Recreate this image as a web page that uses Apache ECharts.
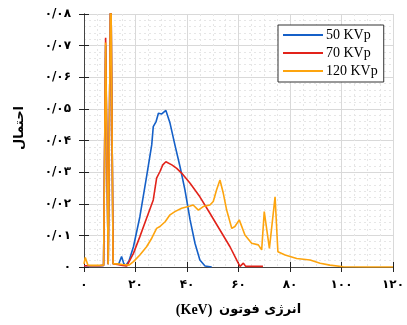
<!DOCTYPE html>
<html>
<head>
<meta charset="utf-8">
<script src="https://cdn.jsdelivr.net/npm/echarts@6/dist/echarts.min.js"></script>
<style>
  html, body { margin: 0; padding: 0; background: #fff; }
  #chart { width: 407px; height: 325px; }
</style>
</head>
<body>
<div id="chart"></div>
<script>
// 电子能谱数据（横轴 keV，纵轴 概率）
const seriesNames = ['50 KVp', '70 KVp', '120 KVp']
const seriesColors = ['#1560c8', '#e2231a', '#fda40e']

const energy50 = [0, 2, 4, 6, 7.6, 8.4, 9.4, 10.4, 11.3, 12.5, 13.5, 14.6, 15.4, 16.2, 17.5, 19.2, 21.7, 24.3, 26.3, 26.9, 28, 28.9, 30.2, 31.8, 33.4, 35.3, 37.3, 39.2, 41.2, 43.1, 45, 47, 49.6]
const prob50 = [0.0004, 0.0004, 0.0004, 0.0004, 0.0005, 0.07, 0.0009, 0.095, 0.001, 0.0009, 0.001, 0.0033, 0.0012, 0.0004, 0.002, 0.0064, 0.0159, 0.0286, 0.0386, 0.0444, 0.046, 0.0486, 0.0484, 0.0495, 0.0455, 0.0386, 0.0317, 0.0244, 0.0149, 0.0075, 0.0022, 0.0003, 0]

const energy70 = [0, 2, 4, 6, 7.6, 8.4, 9.4, 10.4, 11.3, 13, 15, 16.6, 19.2, 21.7, 24.3, 26.9, 28.2, 29.5, 30.6, 31.8, 34.1, 36, 37.9, 41.2, 45, 48.9, 52.8, 56.7, 59.9, 60.6, 61.9, 62.8, 66, 69.5]
const prob70 = [0.0004, 0.0004, 0.0004, 0.0004, 0.0005, 0.0725, 0.0009, 0.095, 0.001, 0.0008, 0.0005, 0.0003, 0.0043, 0.0096, 0.0154, 0.0212, 0.0281, 0.0302, 0.0323, 0.0333, 0.0323, 0.0312, 0.0297, 0.0265, 0.0222, 0.017, 0.0117, 0.0064, 0.0012, 0.0002, 0.0012, 0.0002, 0.0002, 0.0002]

const energy120 = [0, 0.5, 1.5, 3, 5, 7.6, 8.4, 9.4, 10.4, 11.3, 13, 15, 17.5, 19.2, 21.7, 24.3, 26.3, 28.2, 29.5, 31.5, 33.4, 35.3, 37.9, 41.2, 42.4, 44.4, 46.3, 48.9, 50.2, 51.5, 52.8, 54.1, 55.4, 57.4, 58.6, 60.3, 62.5, 65.1, 67.7, 69, 70, 72, 74.2, 75.3, 78.1, 82.6, 87.8, 91.7, 95.5, 100.7, 110, 120]
const prob120 = [0.001, 0.003, 0.0006, 0.0005, 0.0005, 0.0006, 0.071, 0.0009, 0.095, 0.001, 0.001, 0.0008, 0.0006, 0.0017, 0.0038, 0.0064, 0.0091, 0.0122, 0.0128, 0.0143, 0.0165, 0.0175, 0.0186, 0.0193, 0.0196, 0.018, 0.0191, 0.0196, 0.0207, 0.0244, 0.0275, 0.0233, 0.018, 0.0122, 0.0128, 0.0149, 0.0101, 0.0075, 0.007, 0.0054, 0.0175, 0.0059, 0.0222, 0.0048, 0.0038, 0.0027, 0.0022, 0.0012, 0.0006, 0.0001, 0, 0]

// 刻度标签（波斯数字）
const xTickLabels = ['۰', '۲۰', '۴۰', '۶۰', '۸۰', '۱۰۰', '۱۲۰']
const yTickLabels = ['۰', '۰/۰۱', '۰/۰۲', '۰/۰۳', '۰/۰۴', '۰/۰۵', '۰/۰۶', '۰/۰۷', '۰/۰۸']
const xTitleUnit = '(KeV)'
const xTitleText = 'انرژی فوتون'
const yTitleText = 'احتمال'

const zip = (xs, ys) => xs.map((x, i) => [x, ys[i]])
const allData = [zip(energy50, prob50), zip(energy70, prob70), zip(energy120, prob120)]

const labelFont = { color: '#000', fontFamily: 'DejaVu Sans', fontWeight: 'bold', fontSize: 12 }
const gridLine = { show: true, lineStyle: { color: '#d9d9d9', width: 1 } }
const minorLine = { show: true, lineStyle: { color: '#e6e6e6', type: [2, 3], width: 1 } }
const axisLine = { show: true, lineStyle: { color: '#444', width: 1 } }
const tick = { show: true, inside: true, length: 5, lineStyle: { color: '#222' } }

const myChart = echarts.init(document.getElementById('chart'))
const option = {
  animation: false,
  backgroundColor: '#fff',
  grid: { left: 84, right: 14, top: 14, bottom: 58 },
  legend: {
    orient: 'vertical',
    left: 278,
    top: 25,
    padding: [3, 6, 4, 5],
    itemGap: 4,
    itemWidth: 40,
    itemHeight: 2,
    icon: 'rect',
    backgroundColor: '#fff',
    borderColor: '#333',
    borderWidth: 1,
    borderRadius: 0,
    textStyle: { fontFamily: 'Liberation Serif', fontSize: 14, color: '#000', lineHeight: 14, padding: [0, 0, 0, -2] },
    data: seriesNames
  },
  xAxis: [{
    type: 'value',
    min: 0, max: 120, interval: 20,
    axisLine: axisLine,
    axisTick: tick,
    minorTick: { show: false, splitNumber: 4 },
    splitLine: gridLine,
    minorSplitLine: minorLine,
    axisLabel: {
      ...labelFont, fontSize: 12, margin: 12,
      formatter: v => xTickLabels[Math.round(v / 20)]
    },
    name: '{u|' + xTitleUnit + '}  {t|' + xTitleText + '}',
    nameLocation: 'middle',
    nameGap: 36,
    nameTextStyle: {
      rich: {
        u: { fontFamily: 'Liberation Serif', fontWeight: 'bold', fontSize: 14, color: '#000' },
        t: { fontFamily: 'DejaVu Sans', fontWeight: 'bold', fontSize: 13, color: '#000' }
      }
    }
  }, {
    type: 'value', position: 'top',
    min: 0, max: 120, interval: 20,
    axisLine: axisLine, axisTick: tick,
    axisLabel: { show: false }, splitLine: { show: false }
  }],
  yAxis: [{
    type: 'value',
    min: 0, max: 0.08, interval: 0.01,
    axisLine: axisLine,
    axisTick: tick,
    minorTick: { show: false, splitNumber: 5 },
    splitLine: gridLine,
    minorSplitLine: minorLine,
    axisLabel: {
      ...labelFont, fontSize: 12, margin: 13,
      formatter: v => yTickLabels[Math.round(v / 0.01)]
    }
  }, {
    type: 'value', position: 'right',
    min: 0, max: 0.08, interval: 0.01,
    axisLine: axisLine, axisTick: tick,
    axisLabel: { show: false }, splitLine: { show: false }
  }],
  graphic: [{
    type: 'text',
    x: 20, y: 128,
    rotation: Math.PI / 2,
    style: {
      text: yTitleText,
      fontFamily: 'DejaVu Sans', fontWeight: 'bold', fontSize: 13,
      fill: '#000', align: 'center', verticalAlign: 'middle'
    }
  }],
  series: allData.map((d, i) => ({
    name: seriesNames[i],
    type: 'line',
    data: d,
    showSymbol: false,
    clip: true,
    color: seriesColors[i],
    lineStyle: { width: 1.6, color: seriesColors[i] }
  }))
}
myChart.setOption(option)
</script>
</body>
</html>
